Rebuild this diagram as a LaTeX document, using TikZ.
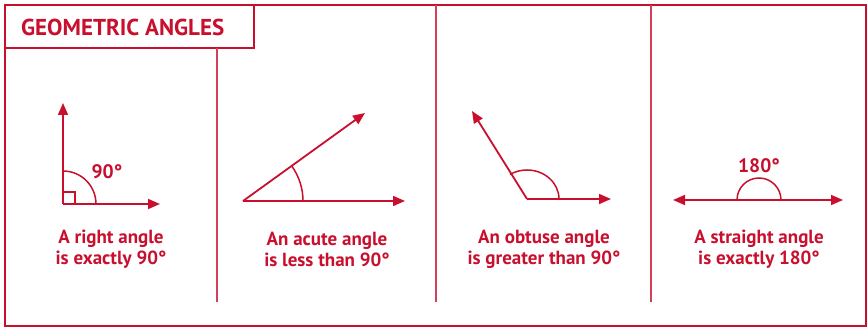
\documentclass[tikz,border=0pt]{standalone}
\usepackage{fontspec}
\setmainfont{PT Sans}
\usetikzlibrary{arrows.meta}
\definecolor{crim}{HTML}{C8102E}
\tikzset{
  frame/.style={draw=crim, line width=2.8pt},
  tbox/.style={draw=crim, line width=2pt},
  divider/.style={draw=crim!80, line width=1.3pt},
  ray/.style={draw=crim, line width=1.8pt, -{Triangle[length=12pt,width=10pt]}},
  dray/.style={draw=crim, line width=1.8pt, {Triangle[length=12pt,width=10pt]}-{Triangle[length=12pt,width=10pt]}},
  arcl/.style={draw=crim, line width=1.5pt},
  captxt/.style={text=crim, font=\fontsize{19}{21}\selectfont\bfseries, align=center, inner sep=0pt},
  deg/.style={text=crim, font=\fontsize{19.5}{21}\selectfont\bfseries, inner sep=0pt},
  title/.style={text=crim, font=\fontsize{23}{26}\selectfont\bfseries, inner sep=0pt, anchor=west}
}
\begin{document}
\begin{tikzpicture}[x=1pt,y=-1pt]
\useasboundingbox (0,0) rectangle (868,328);
% frame
\draw[frame] (5,5) rectangle (866,326);
\draw[tbox] (5,5) rectangle (254,48);
\node[title] (t) at (21,27) {GEOMETRIC ANGLES};
% dividers
\draw[divider] (217,48) -- (217,302);
\draw[divider] (436,5) -- (436,302);
\draw[divider] (651,5) -- (651,302);
% panel 1: right angle
\coordinate (v1) at (63,204);
\coordinate (u1) at (63,103);
\coordinate (r1) at (160,204);
\draw[ray] (v1) -- (u1);
\draw[ray] (v1) -- (r1);
\draw[arcl] (63,171) arc[start angle=-90, end angle=0, radius=33];
\draw[arcl] (63,192) -| (75,204);
\node[deg] (d1) at (107,172) {90°};
% panel 2: acute
\coordinate (v2) at (243,201);
\coordinate (r2) at (405,201);
\coordinate (u2) at (365,113);
\draw[ray] (v2) -- (r2);
\draw[ray] (v2) -- (u2);
\draw[arcl] (303,201) arc[start angle=0, end angle=-35.9, radius=60];
% panel 3: obtuse
\coordinate (v3) at (527,199);
\coordinate (r3) at (611,199);
\coordinate (u3) at (472,111);
\draw[ray] (v3) -- (r3);
\draw[ray] (v3) -- (u3);
\draw[arcl] (559,199) arc[start angle=0, end angle=-122, x radius=32, y radius=29];
% panel 4: straight
\coordinate (l4) at (673,200);
\coordinate (r4) at (843,200);
\draw[dray] (l4) -- (r4);
\draw[arcl] (737,200) arc[start angle=180, end angle=360, radius=22];
\node[deg] (d4) at (759,166) {180°};
% captions
\node[captxt] (c1) at (111,249) {A right angle\\is exactly 90°};
\node[captxt] (c2) at (327,249) {An acute angle\\is less than 90°};
\node[captxt] (c3) at (544,249) {An obtuse angle\\is greater than 90°};
\node[captxt] (c4) at (759,249) {A straight angle\\is exactly 180°};
\end{tikzpicture}
\end{document}
